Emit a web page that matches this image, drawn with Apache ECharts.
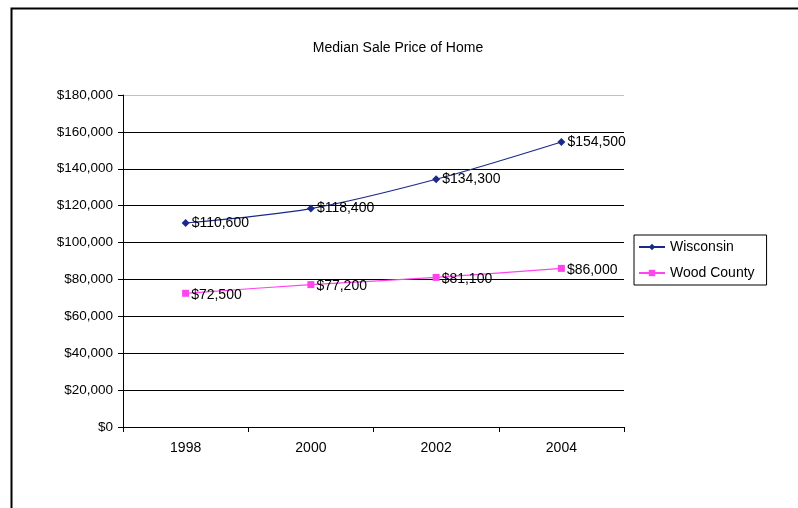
<!DOCTYPE html>
<html>
<head>
<meta charset="utf-8">
<script src="https://cdn.jsdelivr.net/npm/echarts@6/dist/echarts.min.js"></script>
<style>
  html, body { margin: 0; padding: 0; background: #fff; }
  #chart { width: 798px; height: 508px; }
</style>
</head>
<body>
<div id="chart"></div>
<script>
const years = ['1998', '2000', '2002', '2004'];
const wisconsin = [110600, 118400, 134300, 154500];
const woodCounty = [72500, 77200, 81100, 86000];
const yTicks = [0, 20000, 40000, 60000, 80000, 100000, 120000, 140000, 160000, 180000];

const money = v => '$' + v.toLocaleString('en-US');
const font = 'Liberation Sans, Arial, sans-serif';

// gridlines black, top one light grey like the original
const gridColors = yTicks.map((t, i) => i === yTicks.length - 1 ? '#c0c0c0' : '#000');

const myChart = echarts.init(document.getElementById('chart'));
myChart.setOption({
  animation: false,
  textStyle: { fontFamily: font, color: '#000' },
  title: {
    text: 'Median Sale Price of Home',
    left: 393, top: 36, textAlign: 'center',
    textStyle: { fontSize: 14, fontWeight: 'normal', color: '#000', fontFamily: font }
  },
  graphic: [{
    type: 'rect', left: 9, top: 6,
    shape: { width: 820, height: 540 },
    style: { fill: 'none', stroke: '#000', lineWidth: 2 }
  }],
  legend: {
    orient: 'vertical', left: 634, top: 235,
    itemWidth: 26, itemHeight: 8, itemGap: 12,
    padding: [5, 12, 5, 4],
    borderColor: '#000', borderWidth: 1,
    textStyle: { fontSize: 14, color: '#000', fontFamily: font },
    data: ['Wisconsin', 'Wood County']
  },
  grid: { left: 123, right: 174, top: 95, bottom: 81 },
  xAxis: {
    type: 'category', data: years, boundaryGap: true,
    axisLine: { lineStyle: { color: '#000' } },
    axisTick: { show: true, length: 5, lineStyle: { color: '#000' } },
    axisLabel: { fontSize: 14, color: '#000', margin: 14, fontFamily: font }
  },
  yAxis: {
    type: 'value', min: yTicks[0], max: yTicks[yTicks.length - 1], interval: 20000,
    axisLine: { show: true, lineStyle: { color: '#000' } },
    axisTick: { show: true, inside: false, length: 5, lineStyle: { color: '#000' } },
    axisLabel: { fontSize: 13.5, color: '#000', margin: 10, fontFamily: font, formatter: money },
    splitLine: { show: true, lineStyle: { color: gridColors, width: 1 } }
  },
  series: [
    {
      name: 'Wisconsin', type: 'line', data: wisconsin, smooth: 0.3,
      symbol: 'diamond', symbolSize: 8,
      lineStyle: { color: '#1a2a8c', width: 1.2 },
      itemStyle: { color: '#1a2a8c' },
      label: { show: true, position: 'right', distance: 2, fontSize: 14, color: '#000', fontFamily: font, formatter: p => money(p.value) }
    },
    {
      name: 'Wood County', type: 'line', data: woodCounty, smooth: 0.3,
      symbol: 'rect', symbolSize: 7,
      lineStyle: { color: '#ff44ee', width: 1.2 },
      itemStyle: { color: '#ff44ee' },
      label: { show: true, position: 'right', distance: 2, fontSize: 14, color: '#000', fontFamily: font, offset: [0, 2], formatter: p => money(p.value) }
    }
  ]
});
</script>
</body>
</html>
